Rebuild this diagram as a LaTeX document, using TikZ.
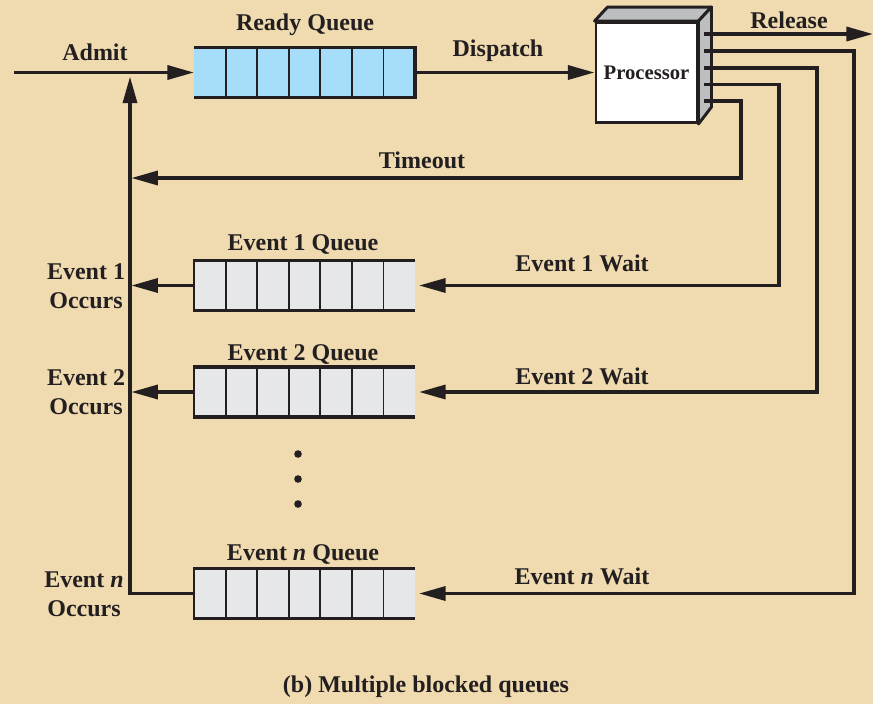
\documentclass[tikz,border=0pt]{standalone}
\usepackage{fontspec}
\setmainfont{Liberation Serif}
\usetikzlibrary{arrows.meta,calc}
\definecolor{bgc}{RGB}{240,219,176}
\definecolor{ink}{RGB}{35,31,32}
\definecolor{qblue}{RGB}{166,221,248}
\definecolor{qgray}{RGB}{230,231,232}
\definecolor{pgray}{RGB}{188,190,192}
\tikzset{
  conn/.style={draw=ink, line width=2.6pt},
  arr/.style={conn, -{Triangle[length=20pt,width=10.5pt]}},
  lbl/.style={font=\fontsize{18}{21}\selectfont\bfseries, text=ink, inner sep=0pt},
  lbl2/.style={lbl, align=center, font=\fontsize{18}{21.75}\selectfont\bfseries},
  qbox/.style={minimum width=165.75pt, minimum height=37.5pt, inner sep=0pt, outer sep=0pt},
}
\newcommand{\qcells}[1]{%
  \foreach \i in {1,...,6} {
    \draw[ink, line width=1.4pt] ($(#1.south west)!\i/7!(#1.south east)$) -- ($(#1.north west)!\i/7!(#1.north east)$);
  }
  \draw[ink, line width=2.6pt] (#1.north west) -- (#1.north east);
  \draw[ink, line width=2.6pt] (#1.south west) -- (#1.south east);
}
\begin{document}
\begin{tikzpicture}[x=0.75pt,y=-0.75pt]
\fill[bgc] (0,0) rectangle (873,704);
\useasboundingbox (0,0) rectangle (873,704);

% queues
\node[qbox, fill=qblue] (ready) at (304.5,72.5) {};
\qcells{ready}
\draw[ink, line width=2.6pt] ([yshift=1.3pt]ready.north east) -- ([yshift=-1.3pt]ready.south east);

\node[qbox, fill=qgray] (q1) at (304.5,285.5) {};
\qcells{q1}
\draw[ink, line width=1.8pt] ([yshift=1.3pt]q1.north west) -- ([yshift=-1.3pt]q1.south west);

\node[qbox, fill=qgray] (q2) at (304.5,392) {};
\qcells{q2}
\draw[ink, line width=1.8pt] ([yshift=1.3pt]q2.north west) -- ([yshift=-1.3pt]q2.south west);

\node[qbox, fill=qgray] (qn) at (304.5,593.5) {};
\qcells{qn}
\draw[ink, line width=1.8pt] ([yshift=1.3pt]qn.north west) -- ([yshift=-1.3pt]qn.south west);

% processor
\node[draw=ink, fill=white, line width=2.2pt, minimum width=75.75pt, minimum height=75pt, inner sep=0pt,
      font=\fontsize{15.5}{18}\selectfont\bfseries, text=ink] (proc) at (646.5,72.5) {Processor};
\draw[ink, fill=pgray, line width=2.2pt, line join=round]
  (proc.north west) -- ++(13,-14) -- ++(101,0) -- ($(proc.north east)+(13,-14)$) -- (proc.north east) -- cycle;
\draw[ink, fill=pgray, line width=2.2pt, line join=round]
  (proc.north east) -- ++(13,-14) -- ++(0,100) -- (proc.south east) -- cycle;

\coordinate (p1) at (704,34);
\coordinate (p2) at (704,51);
\coordinate (p3) at (704,68);
\coordinate (p4) at (704,84.5);
\coordinate (p5) at (704,101);
\coordinate (relend) at (873,34);
\coordinate (admitin) at (14,72.5);
\coordinate (j1) at (131.3,178);
\coordinate (j2) at (131.3,285.5);
\coordinate (j3) at (131.3,392);
\coordinate (jn) at (130,593.5);
\coordinate (jtop) at (130,76.5);

% connectors
\draw[arr] (admitin) -- (ready.west);
\draw[arr] (ready.east) -- (proc.west);
\draw[arr] (p1) -- (relend);
\draw[arr] (p5) -- (741,101) -- (741,178) -- (j1);
\draw[arr] (p4) -- (779,84.5) -- (779,285.5) -- ([xshift=3pt]q1.east);
\draw[arr] (p3) -- (817,68) -- (817,392) -- ([xshift=3pt]q2.east);
\draw[arr] (p2) -- (854,51) -- (854,593.5) -- ([xshift=3pt]qn.east);
\draw[arr] (q1.west) -- (j2);
\draw[arr] (q2.west) -- (j3);
\draw[arr, line join=miter] (qn.west) -- (jn) -- (jtop);

% labels
\node[lbl] (lAdmit) at (95,52) {Admit};
\node[lbl] (lReady) at (305,25) {Ready Queue};
\node[lbl] (lDisp) at (498,51) {Dispatch};
\node[lbl] (lRel) at (789,20) {Release};
\node[lbl] (lTime) at (422,160) {Timeout};
\node[lbl] (lq1) at (303,244) {Event 1 Queue};
\node[lbl2] (lo1) at (86,286.5) {Event 1\\Occurs};
\node[lbl] (lw1) at (582,263) {Event 1 Wait};
\node[lbl] (lq2) at (303,354) {Event 2 Queue};
\node[lbl2] (lo2) at (86,392.5) {Event 2\\Occurs};
\node[lbl] (lw2) at (582,376) {Event 2 Wait};
\node[lbl] (lqn) at (303,554) {Event \textit{n} Queue};
\node[lbl2] (lon) at (84,594.5) {Event \textit{n}\\Occurs};
\node[lbl] (lwn) at (582,576) {Event \textit{n} Wait};
\node[lbl] (cap) at (426,687) {(b) Multiple blocked queues};

\fill[ink] (298,454) circle (3.8);
\fill[ink] (298,479) circle (3.8);
\fill[ink] (298,504) circle (3.8);
\end{tikzpicture}
\end{document}
